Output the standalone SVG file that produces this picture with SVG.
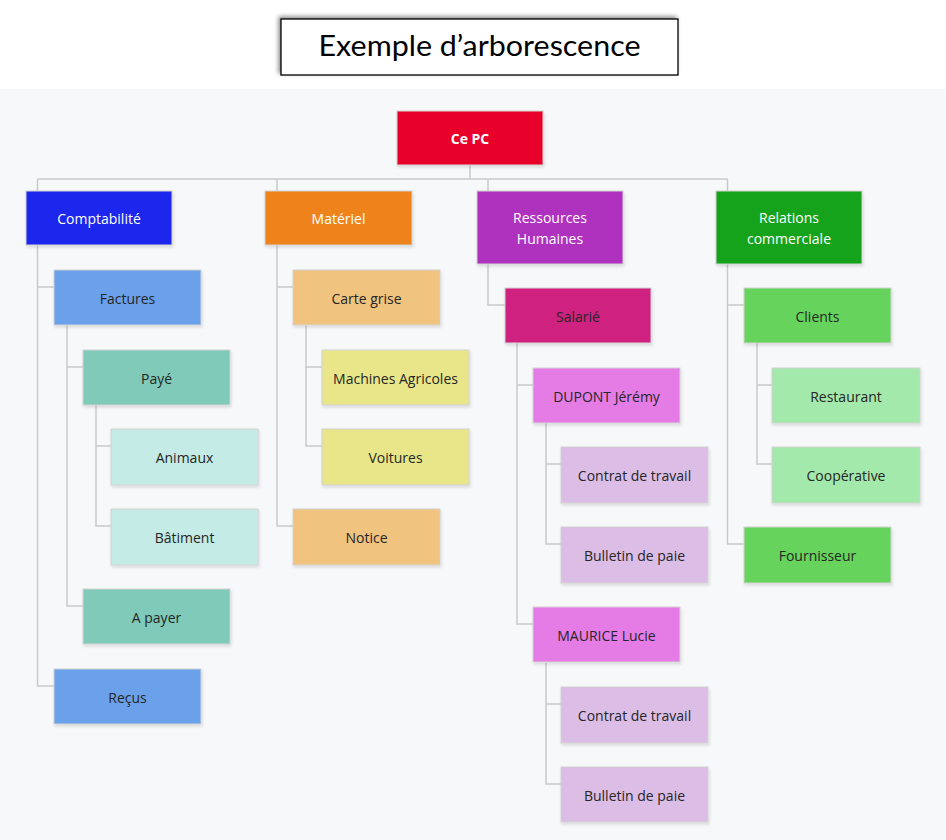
<svg xmlns="http://www.w3.org/2000/svg" width="946" height="840" viewBox="0 0 946 840">
<style>
.n rect{stroke:#d2d2d2;stroke-width:1;filter:url(#sh)}
.n text{font-family:"Open Sans","Noto Sans",sans-serif;font-size:14px;fill:#262626;text-anchor:middle;dominant-baseline:central}
.w text{fill:#ffffff}
.c{fill:none;stroke:#c9c9c9;stroke-width:1.5}
</style>
<defs>
<filter id="sh" x="-10%" y="-10%" width="130%" height="140%"><feDropShadow dx="1" dy="2" stdDeviation="1.8" flood-color="#000" flood-opacity="0.12"/></filter>
<filter id="tsh" x="-10%" y="-30%" width="120%" height="160%"><feDropShadow dx="-2" dy="-2" stdDeviation="2" flood-color="#000" flood-opacity="0.45"/></filter>
</defs>
<rect x="0" y="0" width="946" height="840" fill="#ffffff"/>
<rect x="0" y="89" width="946" height="751" fill="#f7f8fa"/>
<g id="title">
<rect x="281" y="19" width="397" height="56" fill="#ffffff" stroke="#000" stroke-width="1.3" filter="url(#tsh)"/>
<text x="479.5" y="56" font-family="Lato,'Open Sans',sans-serif" font-size="29" fill="#000" text-anchor="middle" textLength="322" lengthAdjust="spacingAndGlyphs">Exemple d’arborescence</text>
</g>
<g id="connectors" class="c">
<path d="M470 165V179M37.5 179H727.5M37.5 179V191M277 179V191M488 179V191M727.5 179V191"/>
<path d="M37.5 245V686H54M37.5 287H54"/>
<path d="M67 325V606H83M67 367H83"/>
<path d="M96 405V526H111M96 446H111"/>
<path d="M277 245V526H293M277 287H293"/>
<path d="M306 325V446H322M306 367H322"/>
<path d="M488 264V305H505"/>
<path d="M517 343V624H533M517 385H533"/>
<path d="M546 423V544H561M546 464H561"/>
<path d="M546 663V784H561M546 704H561"/>
<path d="M727.5 264V544H744M727.5 305H744"/>
<path d="M757 343V464H772M757 385H772"/>
</g>
<g id="n-root" class="n w"><rect x="397" y="111" width="146" height="54" fill="#e8062a"/><text x="470" y="138" font-weight="bold">Ce PC</text></g>
<g id="n-compta" class="n w"><rect x="26" y="191" width="146" height="54" fill="#1e28ec"/><text x="99" y="218">Comptabilité</text></g>
<g id="n-materiel" class="n w"><rect x="265" y="191" width="147" height="54" fill="#ee831a"/><text x="338.5" y="218">Matériel</text></g>
<g id="n-rh" class="n w"><rect x="477" y="191" width="146" height="73" fill="#af33bf"/><text x="550" y="217">Ressources</text><text x="550" y="238">Humaines</text></g>
<g id="n-rel" class="n w"><rect x="716" y="191" width="146" height="73" fill="#19a31a"/><text x="789" y="217">Relations</text><text x="789" y="238">commerciale</text></g>
<g id="n-factures" class="n"><rect x="54" y="270" width="147" height="55" fill="#6ba1ea"/><text x="127.5" y="298">Factures</text></g>
<g id="n-paye" class="n"><rect x="83" y="350" width="147" height="55" fill="#7fcab9"/><text x="156.5" y="378">Payé</text></g>
<g id="n-animaux" class="n"><rect x="111" y="429" width="147" height="56" fill="#c4ebe5"/><text x="184.5" y="457">Animaux</text></g>
<g id="n-batiment" class="n"><rect x="111" y="509" width="147" height="56" fill="#c4ebe5"/><text x="184.5" y="537">Bâtiment</text></g>
<g id="n-apayer" class="n"><rect x="83" y="589" width="147" height="55" fill="#7fcab9"/><text x="156.5" y="617">A payer</text></g>
<g id="n-recus" class="n"><rect x="54" y="669" width="147" height="55" fill="#6ba1ea"/><text x="127.5" y="697">Reçus</text></g>
<g id="n-carte" class="n"><rect x="293" y="270" width="147" height="55" fill="#f0c37e"/><text x="366.5" y="298">Carte grise</text></g>
<g id="n-machines" class="n"><rect x="322" y="350" width="147" height="55" fill="#e8e688"/><text x="395.5" y="378">Machines Agricoles</text></g>
<g id="n-voitures" class="n"><rect x="322" y="429" width="147" height="56" fill="#e8e688"/><text x="395.5" y="457">Voitures</text></g>
<g id="n-notice" class="n"><rect x="293" y="509" width="147" height="56" fill="#f0c37e"/><text x="366.5" y="537">Notice</text></g>
<g id="n-salarie" class="n"><rect x="505" y="288" width="146" height="55" fill="#cf2480"/><text x="578" y="316">Salarié</text></g>
<g id="n-dupont" class="n"><rect x="533" y="368" width="147" height="55" fill="#e57ce6"/><text x="606.5" y="396">DUPONT Jérémy</text></g>
<g id="n-contrat1" class="n"><rect x="561" y="447" width="147" height="56" fill="#dbbde6"/><text x="634.5" y="475">Contrat de travail</text></g>
<g id="n-bulletin1" class="n"><rect x="561" y="527" width="147" height="56" fill="#dbbde6"/><text x="634.5" y="555">Bulletin de paie</text></g>
<g id="n-maurice" class="n"><rect x="533" y="607" width="147" height="55" fill="#e57ce6"/><text x="606.5" y="635">MAURICE Lucie</text></g>
<g id="n-contrat2" class="n"><rect x="561" y="687" width="147" height="56" fill="#dbbde6"/><text x="634.5" y="715">Contrat de travail</text></g>
<g id="n-bulletin2" class="n"><rect x="561" y="767" width="147" height="55" fill="#dbbde6"/><text x="634.5" y="795">Bulletin de paie</text></g>
<g id="n-clients" class="n"><rect x="744" y="288" width="147" height="55" fill="#66d45b"/><text x="817.5" y="316">Clients</text></g>
<g id="n-restaurant" class="n"><rect x="772" y="368" width="148" height="55" fill="#a4e9ac"/><text x="846" y="396">Restaurant</text></g>
<g id="n-coop" class="n"><rect x="772" y="447" width="148" height="56" fill="#a4e9ac"/><text x="846" y="475">Coopérative</text></g>
<g id="n-fourn" class="n"><rect x="744" y="527" width="147" height="56" fill="#66d45b"/><text x="817.5" y="555">Fournisseur</text></g>
</svg>
